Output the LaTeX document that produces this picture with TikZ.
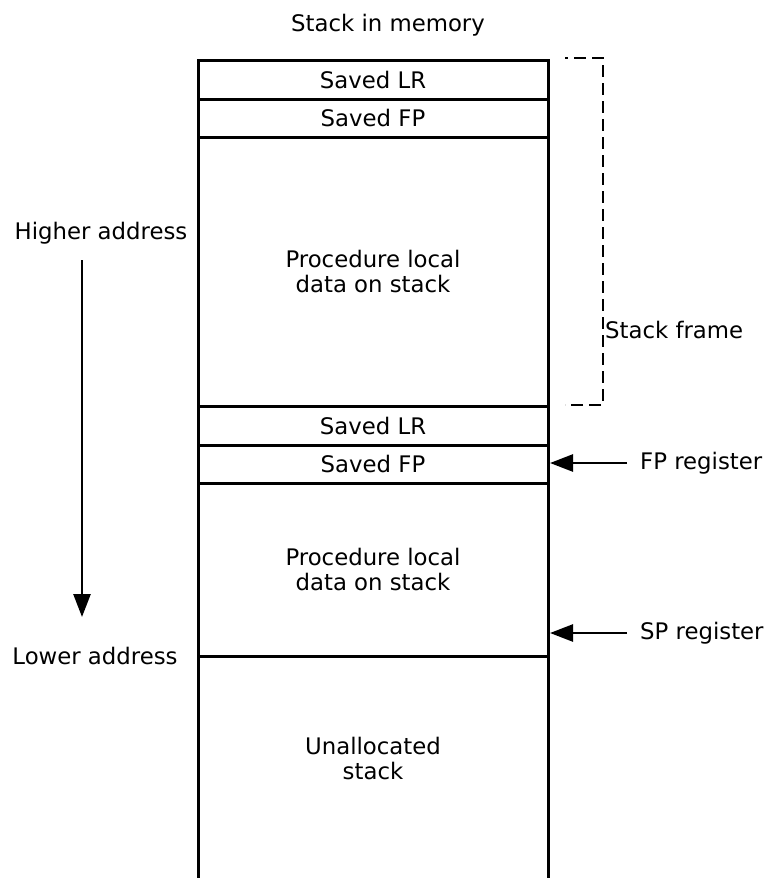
\documentclass[tikz,border=0pt]{standalone}
\usepackage{fontspec}
\setmainfont{DejaVu Sans}
\usetikzlibrary{arrows.meta}
\begin{document}
\begin{tikzpicture}[x=1pt,y=-1pt,
  every node/.style={font=\fontsize{22.8}{25}\selectfont, inner sep=0pt, align=center},
  cell/.style={draw, line width=3pt, outer sep=0pt, minimum width=350pt, anchor=north west},
  ptr/.style={line width=2.6pt, -{Triangle[length=23pt,width=17pt]}},
  brace/.style={line width=2.6pt, dash pattern=on 12pt off 6pt, dash phase=9pt}]
\useasboundingbox (0,0) rectangle (770,878);
% caption
\node (title) at (388,25) {Stack in memory};
% stack cells
\node[cell, minimum height=39pt] (lr1) at (198,60) {Saved LR};
\node[cell, minimum height=38pt] (fp1) at (198,99) {Saved FP};
\node[cell, minimum height=269pt] (loc1) at (198,137) {Procedure local\\data on stack};
\node[cell, minimum height=39pt] (lr2) at (198,406) {Saved LR};
\node[cell, minimum height=38pt] (fp2) at (198,445) {Saved FP};
\node[cell, minimum height=173pt] (loc2) at (198,483) {Procedure local\\data on stack};
% unallocated (open at the bottom)
\draw[line width=3pt] (198,882) -- (198,656) -- (548,656) -- (548,882);
\node (unalloc) at (373,758) {Unallocated\\stack};
% stack frame bracket
\coordinate (bt) at (565,58);
\coordinate (bb) at (565,405);
\draw[brace] (bt) -- (603,58) -- (603,405) -- (bb);
\node[anchor=west] (frame) at (605,330) {Stack frame};
% registers
\node[anchor=west] (fpreg) at (640,463) {FP register};
\node[anchor=west] (spreg) at (640,633) {SP register};
\coordinate (fptip) at (550,463);
\coordinate (sptip) at (550,633);
\draw[ptr] (fpreg.west) ++(-13,0) -- (fptip);
\draw[ptr] (spreg.west) ++(-13,0) -- (sptip);
% address direction
\node (high) at (101,233) {Higher address};
\node (low) at (95,656) {Lower address};
\coordinate (astart) at (82,260);
\coordinate (aend) at (82,617);
\draw[ptr] (astart) -- (aend);
\end{tikzpicture}
\end{document}
